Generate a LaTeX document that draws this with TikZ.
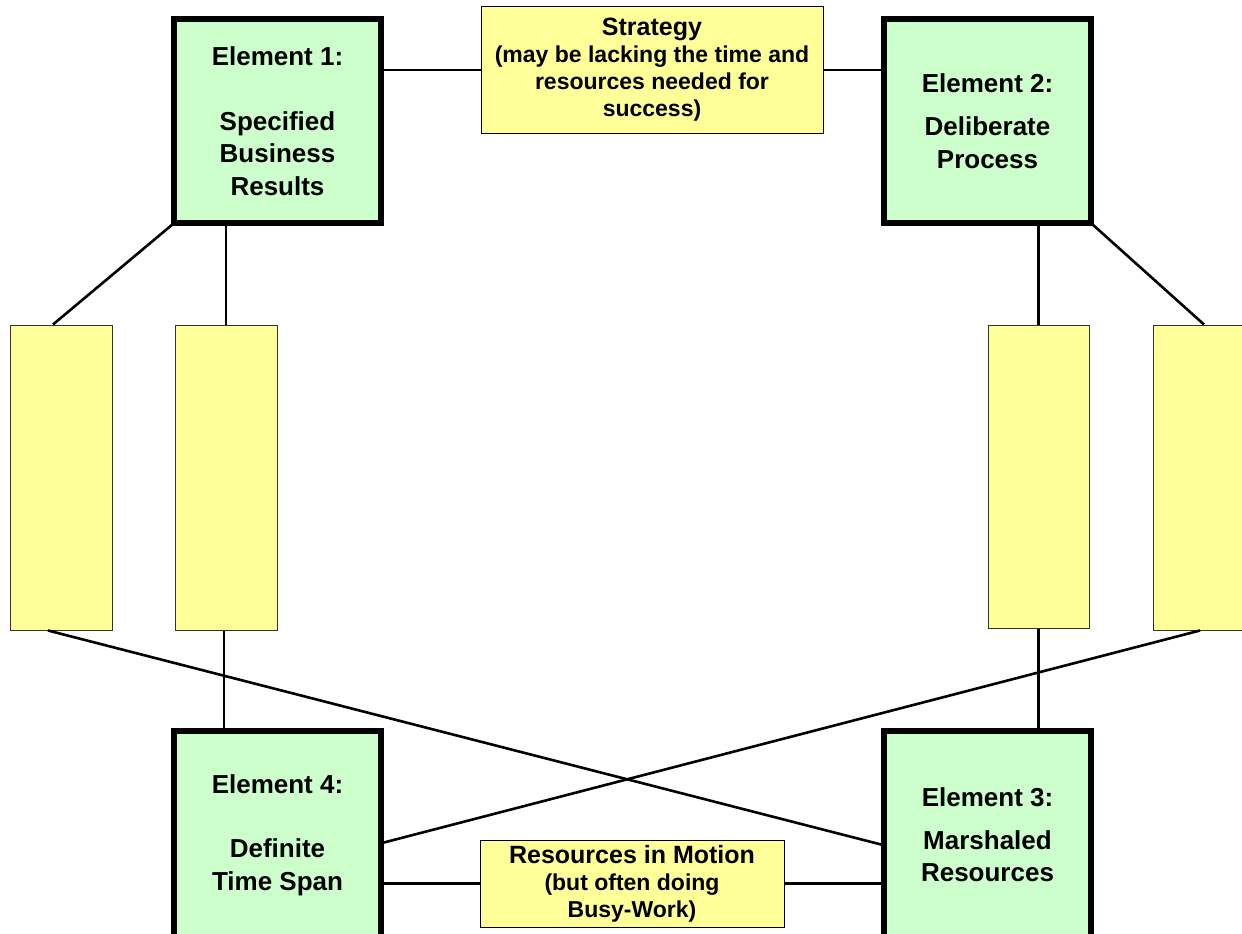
\documentclass[tikz,border=0pt]{standalone}
\usepackage{fontspec}
\setmainfont{Liberation Sans}
\begin{document}
\begin{tikzpicture}[x=1pt,y=-1pt,
  element/.style={draw=black,line width=4pt,fill=elemgreen,align=center,
    minimum width=205pt,minimum height=202pt,inner sep=0pt,
    font=\bfseries\fontsize{26}{32.5}\selectfont},
  note/.style={draw=black,line width=1pt,fill=noteyellow,align=center,inner sep=0pt,
    font=\bfseries\fontsize{23}{27}\selectfont},
  post/.style={draw=black!80,line width=1pt,fill=noteyellow,
    minimum width=102pt,minimum height=305pt,inner sep=0pt},
  link/.style={draw=black,line width=2.6pt}]
\definecolor{elemgreen}{HTML}{CCFFCC}
\definecolor{noteyellow}{HTML}{FFFF99}
\useasboundingbox (0,0) rectangle (1242,934);
\clip (0,0) rectangle (1242,934);

% the four elements
\node[element] (E1) at (277.5,121) {Element 1:\\[32pt]Specified\\Business\\Results};
\node[element] (E2) at (987.5,121) {Element 2:\\[11pt]Deliberate\\Process};
\node[element,minimum height=206pt] (E4) at (277.5,835) {Element 4:\\[32pt]Definite\\Time Span};
\node[element,minimum height=206pt] (E3) at (987.5,835) {Element 3:\\[10pt]Marshaled\\Resources};

% labels between elements
\node[note,minimum width=342pt,minimum height=126pt] (S) at (652,70)
  {{\fontsize{25}{28}\selectfont Strategy}\\
   (may be lacking the time and\\
   resources needed for\\ success)};
\node[note,minimum width=304pt,minimum height=87pt] (R) at (632,883.5)
  {{\fontsize{25}{29}\selectfont Resources in Motion}\\
   (but often doing\\ Busy-Work)};

% empty upright boxes
\node[post] (A) at (61,477.5) {};
\node[post] (B) at (226,477.5) {};
\node[post,minimum width=101pt,minimum height=303pt] (C) at (1038.5,476.5) {};
\node[post] (D) at (1204,477.5) {};

% connectors along the top
\draw[link] (E1.east |- S.west) -- (S.west);
\draw[link] (S.east) -- (E2.west |- S.east);
\draw[link] (E1.south west) -- ([xshift=-8pt]A.north);
\draw[link] (B.north |- E1.south) -- (B.north);
\draw[link] (C.north |- E2.south) -- (C.north);
\draw[link] (E2.south east) -- (D.north);

% connectors along the bottom
\draw[link] ([xshift=-2pt]B.south) -- ([xshift=-2pt]B.south |- E4.north);
\draw[link] (C.south) -- (C.south |- E3.north);
\draw[link] ([xshift=-13pt]A.south) -- ([yshift=-10pt]E3.west);
\draw[link] ([xshift=-4pt]D.south) -- ([yshift=-8pt]E4.east);
\draw[link] (E4.east |- R.west) -- (R.west);
\draw[link] (R.east) -- (E3.west |- R.east);

% redraw the element outlines over the line ends
\foreach \n in {E1,E2,E3,E4} \draw[line width=4pt] (\n.south west) rectangle (\n.north east);
\end{tikzpicture}
\end{document}
